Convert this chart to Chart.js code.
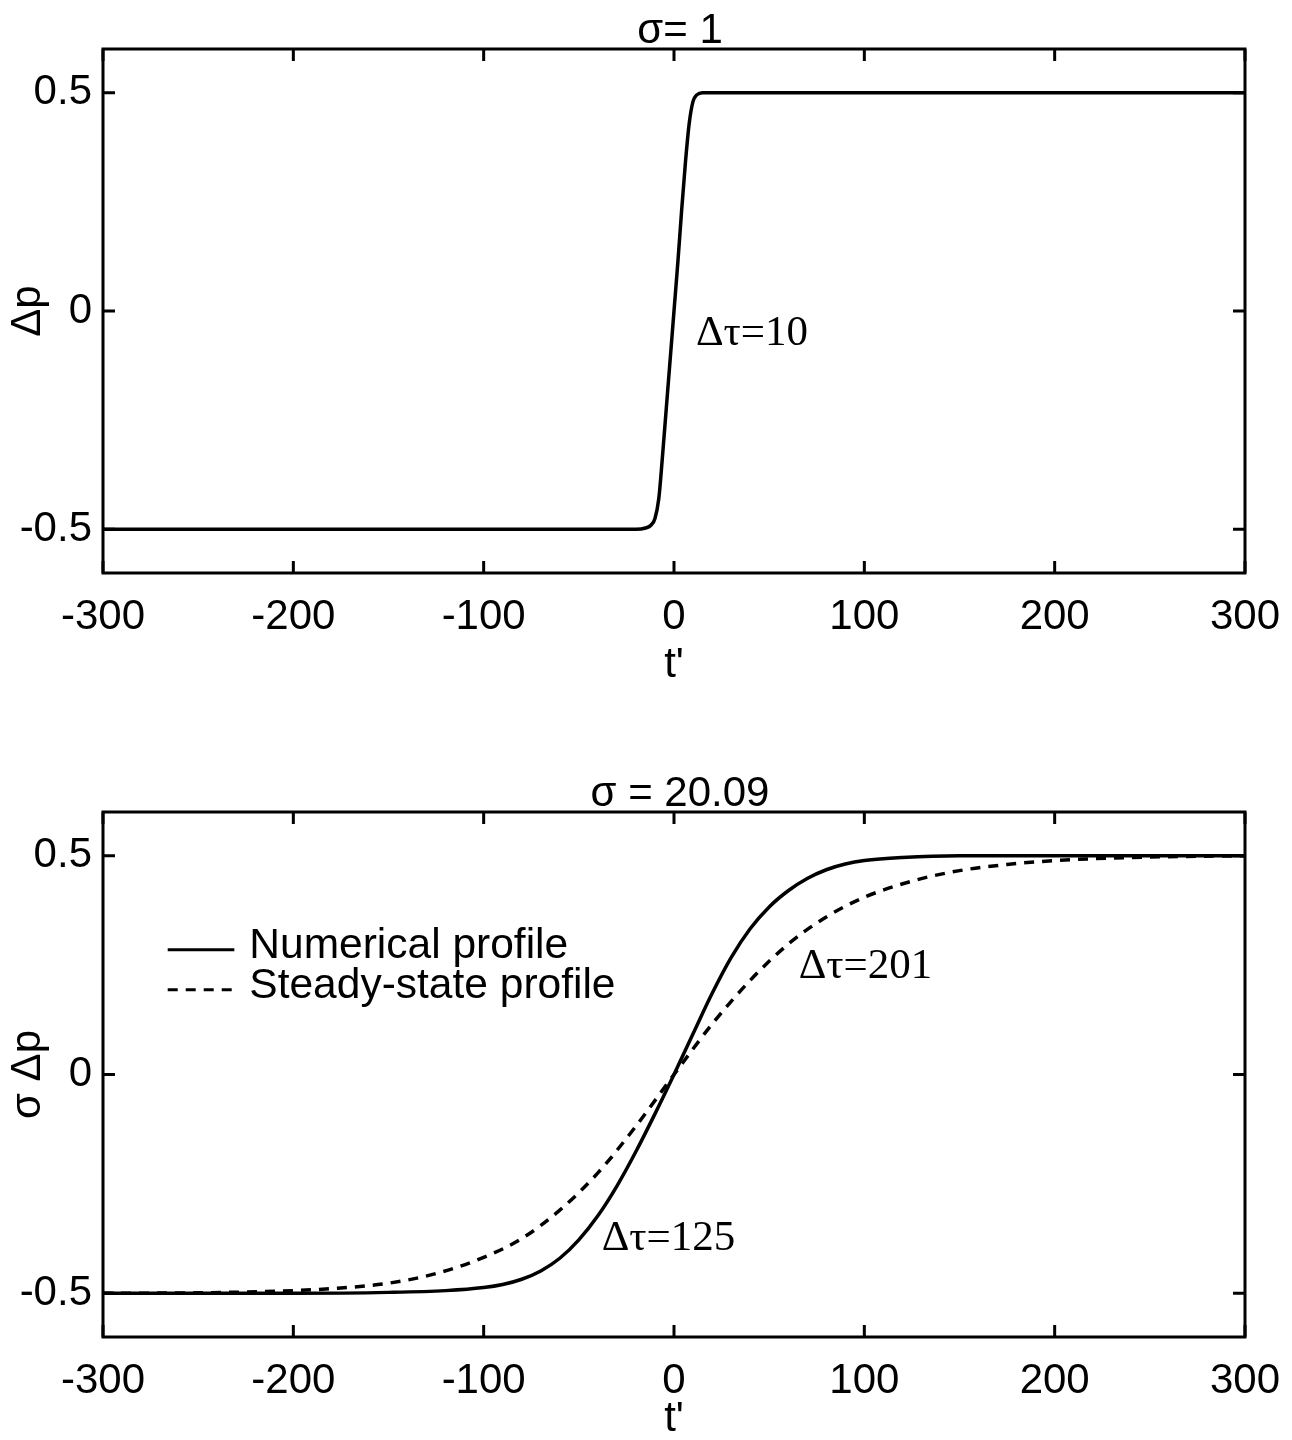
<!DOCTYPE html>
<html><head><meta charset="utf-8">
<script src="https://cdn.jsdelivr.net/npm/chart.js@4/dist/chart.umd.min.js"></script>
<style>
html,body{margin:0;padding:0;background:#fff;}
#w1{position:absolute;left:0;top:0;width:1292px;height:720px;}
#w2{position:absolute;left:0;top:720px;width:1292px;height:720px;}
</style></head><body>
<div id="w1"><canvas id="c1"></canvas></div>
<div id="w2"><canvas id="c2"></canvas></div>
<script>
// ---- data ----
const xTicks = [-300, -200, -100, 0, 100, 200, 300];
const yTicks = [-0.5, 0, 0.5];
const xLabel = "t'";

const topTitle = 'σ= 1';
const topYLabel = 'Δp';
const topT  = [-300, -20, -15, -12, -10, -8, -6, -4, -2, 0, 2, 4, 6, 8, 10, 12, 15, 300];
const topDp = [-0.5, -0.5, -0.497, -0.49, -0.475, -0.43, -0.33, -0.22, -0.11, 0.0, 0.11, 0.23, 0.34, 0.43, 0.48, 0.495, 0.5, 0.5];

const bottomTitle = 'σ = 20.09';
const bottomYLabel = 'σ Δp';
const numLabel = 'Numerical profile';
const numT = [-300, -200, -150, -120, -100, -90, -80, -70, -60, -50, -40, -30, -20, -10, 0, 10, 20, 30, 40, 50, 60, 70, 80, 90, 100, 120, 150, 200, 300];
const numV = [-0.5, -0.5, -0.498, -0.494, -0.487, -0.48, -0.468, -0.449, -0.42, -0.378, -0.323, -0.255, -0.176, -0.09, 0.0, 0.093, 0.185, 0.267, 0.333, 0.383, 0.42, 0.448, 0.468, 0.481, 0.489, 0.496, 0.5, 0.5, 0.5];
const ssLabel = 'Steady-state profile';
const ssT = [-300, -250, -200, -175, -150, -125, -100, -80, -60, -40, -20, 0, 20, 40, 60, 80, 100, 125, 150, 175, 200, 250, 300];
const ssV = [-0.5, -0.499, -0.494, -0.488, -0.477, -0.455, -0.418, -0.375, -0.31, -0.225, -0.118, 0.0, 0.115, 0.215, 0.298, 0.36, 0.405, 0.442, 0.466, 0.48, 0.489, 0.497, 0.5];

const topNotes = [{text: 'Δτ=10', t: 11.5, v: -0.078}];
const bottomNotes = [{text: 'Δτ=201', t: 65.5, v: 0.221}, {text: 'Δτ=125', t: -38, v: -0.402}];

// ---- helpers ----
const SANS = '"Liberation Sans", Arial, Helvetica, sans-serif';
const SERIF = '"Liberation Serif", "Times New Roman", serif';
const FS = 42;

function pts(xs, ys){ return xs.map((x,i)=>({x:x, y:ys[i]})); }

const frameTicks = {
  id: 'frameTicks',
  afterDatasetsDraw(chart){
    const ctx = chart.ctx, a = chart.chartArea;
    const sx = chart.scales.x, sy = chart.scales.y;
    const L = 12;
    ctx.save();
    ctx.strokeStyle = '#000';
    ctx.lineWidth = 3;
    ctx.strokeRect(a.left, a.top, a.right - a.left, a.bottom - a.top);
    ctx.beginPath();
    sx.ticks.forEach(tk => {
      const px = sx.getPixelForValue(tk.value);
      ctx.moveTo(px, a.bottom); ctx.lineTo(px, a.bottom - L);
      ctx.moveTo(px, a.top); ctx.lineTo(px, a.top + L);
    });
    sy.ticks.forEach(tk => {
      const py = sy.getPixelForValue(tk.value);
      ctx.moveTo(a.left, py); ctx.lineTo(a.left + L, py);
      ctx.moveTo(a.right, py); ctx.lineTo(a.right - L, py);
    });
    ctx.stroke();
    ctx.restore();
  }
};

const areaTitle = {
  id: 'areaTitle',
  afterDraw(chart, args, opts){
    const ctx = chart.ctx, a = chart.chartArea;
    ctx.save();
    ctx.fillStyle = '#000';
    ctx.font = FS + 'px ' + SANS;
    ctx.textAlign = 'center';
    ctx.textBaseline = 'alphabetic';
    ctx.fillText(opts.text, (a.left + a.right) / 2 + 6, a.top - 6);
    ctx.restore();
  }
};

const notesPlugin = {
  id: 'notes',
  afterDatasetsDraw(chart, args, opts){
    const ctx = chart.ctx, sx = chart.scales.x, sy = chart.scales.y;
    ctx.save();
    ctx.fillStyle = '#000';
    ctx.font = opts.size + 'px ' + SERIF;
    ctx.textAlign = 'left';
    ctx.textBaseline = 'alphabetic';
    (opts.items || []).forEach(n => {
      ctx.fillText(n.text, sx.getPixelForValue(n.t), sy.getPixelForValue(n.v));
    });
    ctx.restore();
  }
};

const innerLegend = {
  id: 'innerLegend',
  afterDatasetsDraw(chart, args, opts){
    if (!opts.show) return;
    const ctx = chart.ctx, sx = chart.scales.x, sy = chart.scales.y;
    ctx.save();
    ctx.font = '42.5px ' + SANS;
    ctx.fillStyle = '#000';
    ctx.textBaseline = 'alphabetic';
    chart.data.datasets.forEach((ds, i) => {
      const y = sy.getPixelForValue(opts.v0) + i * opts.gap;
      const x0 = sx.getPixelForValue(opts.t0), x1 = sx.getPixelForValue(opts.t1);
      ctx.strokeStyle = ds.borderColor;
      ctx.lineWidth = 3;
      ctx.setLineDash(ds.borderDash || []);
      ctx.beginPath(); ctx.moveTo(x0, y); ctx.lineTo(x1, y); ctx.stroke();
      ctx.setLineDash([]);
      ctx.fillText(ds.label, x1 + 15, y + 8);
    });
    ctx.restore();
  }
};

function makeChart(canvasId, title, yLabel, datasets, notes, legendOpts, areaTop, areaBottom, H, xTitlePad){
  return new Chart(document.getElementById(canvasId), {
    type: 'line',
    data: { datasets: datasets },
    options: {
      responsive: true, maintainAspectRatio: false, animation: false,
      devicePixelRatio: 1,
      layout: { padding: { left: 0, right: 47, top: areaTop, bottom: 0 } },
      elements: { point: { radius: 0 } },
      plugins: {
        legend: { display: false },
        tooltip: { enabled: false },
        title: { display: false },
        areaTitle: { text: title },
        notes: { items: notes, size: 43 },
        innerLegend: legendOpts
      },
      scales: {
        x: {
          type: 'linear', min: -300, max: 300,
          afterBuildTicks: s => { s.ticks = xTicks.map(v => ({value: v})); },
          afterFit: s => { s.height = H - areaBottom; s.paddingLeft = 0; s.paddingRight = 0; },
          grid: { display: false, drawTicks: false },
          border: { display: false },
          ticks: { color: '#000', font: { family: SANS, size: FS }, padding: 19, maxRotation: 0,
                   callback: v => String(v) },
          title: { display: true, text: xLabel, color: '#000',
                   font: { family: SANS, size: FS, lineHeight: 1.0 }, padding: { top: 0, bottom: xTitlePad } }
        },
        y: {
          type: 'linear', min: -0.6, max: 0.6,
          afterBuildTicks: s => { s.ticks = yTicks.map(v => ({value: v})); },
          afterFit: s => { s.width = 103; s.paddingTop = 0; s.paddingBottom = 0; },
          grid: { display: false, drawTicks: false },
          border: { display: false },
          ticks: { color: '#000', font: { family: SANS, size: FS }, padding: 11,
                   callback: v => String(v) },
          title: { display: true, text: yLabel, color: '#000',
                   font: { family: SANS, size: FS }, padding: { top: 3, bottom: 0 } }
        }
      }
    },
    plugins: [frameTicks, areaTitle, notesPlugin, innerLegend]
  });
}

makeChart('c1', topTitle, topYLabel, [
  { label: 'Δp', data: pts(topT, topDp), borderColor: '#000', borderWidth: 3.5,
    cubicInterpolationMode: 'monotone', fill: false }
], topNotes, { show: false }, 49, 573, 720, 34);

makeChart('c2', bottomTitle, bottomYLabel, [
  { label: numLabel, data: pts(numT, numV), borderColor: '#000', borderWidth: 3.5,
    cubicInterpolationMode: 'monotone', fill: false },
  { label: ssLabel, data: pts(ssT, ssV), borderColor: '#000', borderWidth: 3.5,
    borderDash: [10, 8], cubicInterpolationMode: 'monotone', fill: false }
], bottomNotes, { show: true, t0: -266, t1: -231, v0: 0.285, gap: 40 }, 92, 617, 720, 0);
</script>
</body></html>
